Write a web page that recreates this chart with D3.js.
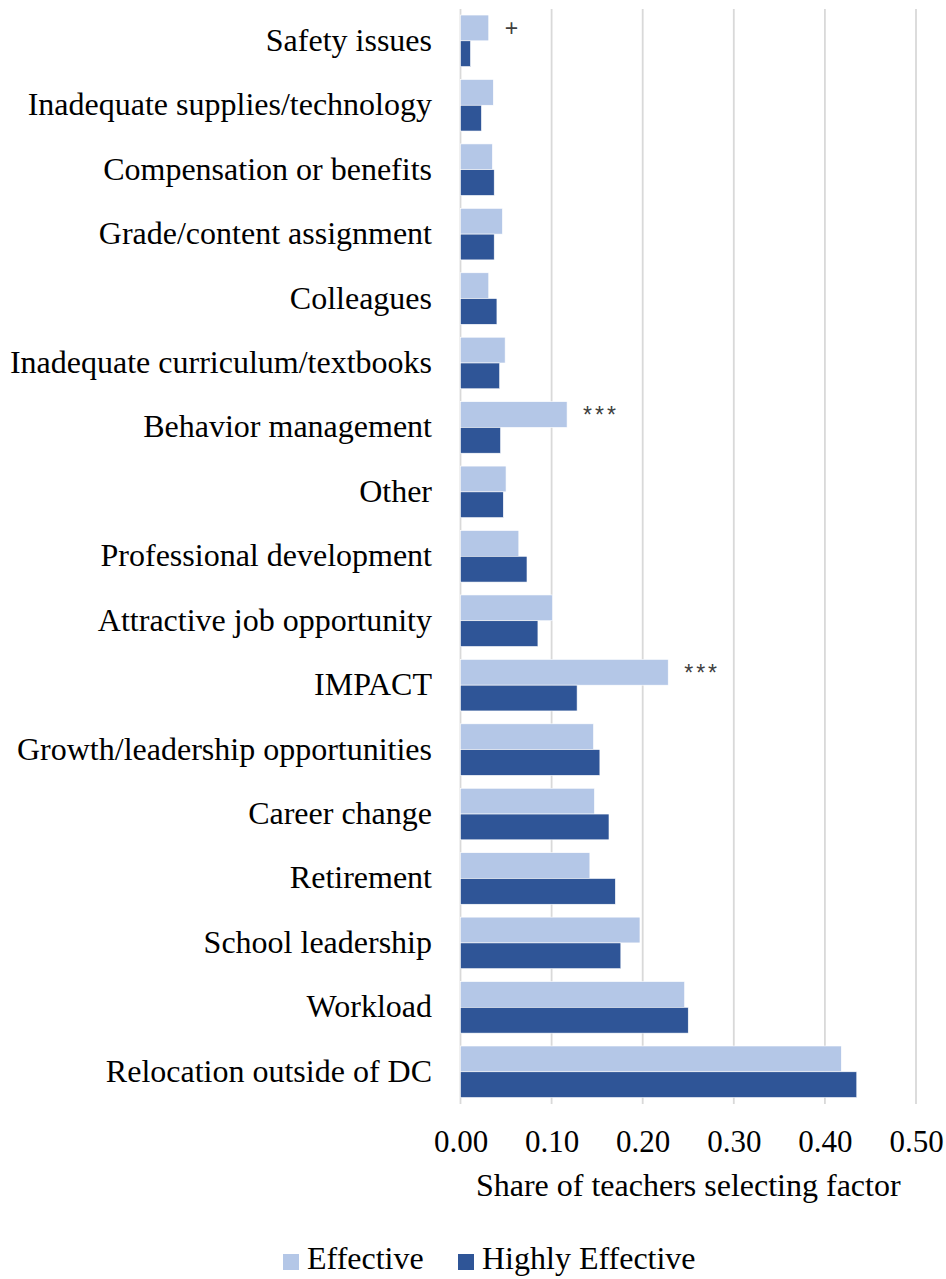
<!DOCTYPE html>
<html>
<head>
<meta charset="utf-8">
<script src="https://cdn.jsdelivr.net/npm/d3@7/dist/d3.min.js"></script>
<style>
  html, body { margin: 0; padding: 0; background: #ffffff; }
  svg { display: block; }
</style>
</head>
<body>
<svg id="chart" width="946" height="1279"></svg>
<script>
// ---- Data ----
const categories = [
  "Safety issues",
  "Inadequate supplies/technology",
  "Compensation or benefits",
  "Grade/content assignment",
  "Colleagues",
  "Inadequate curriculum/textbooks",
  "Behavior management",
  "Other",
  "Professional development",
  "Attractive job opportunity",
  "IMPACT",
  "Growth/leadership opportunities",
  "Career change",
  "Retirement",
  "School leadership",
  "Workload",
  "Relocation outside of DC"
];
const seriesNames = ["Effective", "Highly Effective"];
const effective = [0.031, 0.036, 0.035, 0.046, 0.031, 0.049, 0.117, 0.050, 0.064, 0.101, 0.228, 0.146, 0.147, 0.142, 0.197, 0.246, 0.418];
const highlyEffective = [0.011, 0.023, 0.037, 0.037, 0.040, 0.043, 0.044, 0.047, 0.073, 0.085, 0.128, 0.153, 0.163, 0.170, 0.176, 0.250, 0.435];
const significance = ["+", "", "", "", "", "", "***", "", "", "", "***", "", "", "", "", "", ""];
const tickValues = [0, 0.1, 0.2, 0.3, 0.4, 0.5];
const xTitle = "Share of teachers selecting factor";

// ---- Layout ----
const colors = ["#b4c7e7", "#2f5597"];
const svg = d3.select("#chart");
const serif = "'Liberation Serif', 'Times New Roman', serif";

const x = d3.scaleLinear().domain([0, 0.5]).range([460.5, 916]);
const y = d3.scaleBand().domain(categories).range([8.6, 1104]).paddingInner(0.2).paddingOuter(0.1);
const ySub = d3.scaleBand().domain(seriesNames).range([0, y.bandwidth()]);

// gridlines
svg.append("g").selectAll("line")
  .data(tickValues)
  .join("line")
  .attr("x1", d => x(d)).attr("x2", d => x(d))
  .attr("y1", 9).attr("y2", 1104)
  .attr("stroke", "#d9d9d9")
  .attr("stroke-width", 1.8);

// bars
const rows = categories.map((c, i) => ({ cat: c, vals: [effective[i], highlyEffective[i]], sig: significance[i] }));
const g = svg.append("g").selectAll("g")
  .data(rows)
  .join("g")
  .attr("transform", d => `translate(0,${y(d.cat)})`);

g.selectAll("rect")
  .data(d => d.vals.map((v, k) => ({ v, k })))
  .join("rect")
  .attr("x", x(0))
  .attr("y", d => ySub(seriesNames[d.k]))
  .attr("width", d => x(d.v) - x(0))
  .attr("height", ySub.bandwidth())
  .attr("fill", d => colors[d.k])
  .attr("stroke", "#ffffff")
  .attr("stroke-width", 0.6);

// significance markers
g.filter(d => d.sig !== "")
  .append("text")
  .attr("x", d => x(d.vals[0]) + 16)
  .attr("y", ySub.bandwidth() / 4 + 15)
  .attr("font-family", "'Liberation Sans', Arial, sans-serif")
  .attr("font-size", 23)
  .attr("letter-spacing", d => d.sig === "+" ? 0 : 3)
  .attr("fill", "#404040")
  .text(d => d.sig);

// category labels
svg.append("g").selectAll("text")
  .data(categories)
  .join("text")
  .attr("x", 432)
  .attr("y", d => y(d) + y.bandwidth() / 2 + 10)
  .attr("text-anchor", "end")
  .attr("font-family", serif)
  .attr("font-size", 32)
  .attr("fill", "#000000")
  .text(d => d);

// x axis tick labels
const xAxis = d3.axisBottom(x).tickValues(tickValues).tickFormat(d3.format(".2f")).tickSize(0).tickPadding(0);
const axisG = svg.append("g").attr("transform", "translate(0,1104)").call(xAxis);
axisG.select(".domain").remove();
axisG.selectAll("text")
  .attr("y", 48)
  .attr("dy", null)
  .attr("font-family", serif)
  .attr("font-size", 31)
  .attr("fill", "#000000");

// x title
svg.append("text")
  .attr("x", (x(0) + x(0.5)) / 2)
  .attr("y", 1196)
  .attr("text-anchor", "middle")
  .attr("font-family", serif)
  .attr("font-size", 32)
  .attr("fill", "#000000")
  .text(xTitle);

// legend
const legendX = [283, 458];
const legend = svg.append("g").selectAll("g")
  .data(seriesNames)
  .join("g")
  .attr("transform", (d, i) => `translate(${legendX[i]},1254)`);
legend.append("rect")
  .attr("width", 16).attr("height", 16)
  .attr("fill", (d, i) => colors[i]);
legend.append("text")
  .attr("x", 24)
  .attr("y", 15)
  .attr("font-family", serif)
  .attr("font-size", 32)
  .attr("fill", "#000000")
  .text(d => d);
</script>
</body>
</html>
